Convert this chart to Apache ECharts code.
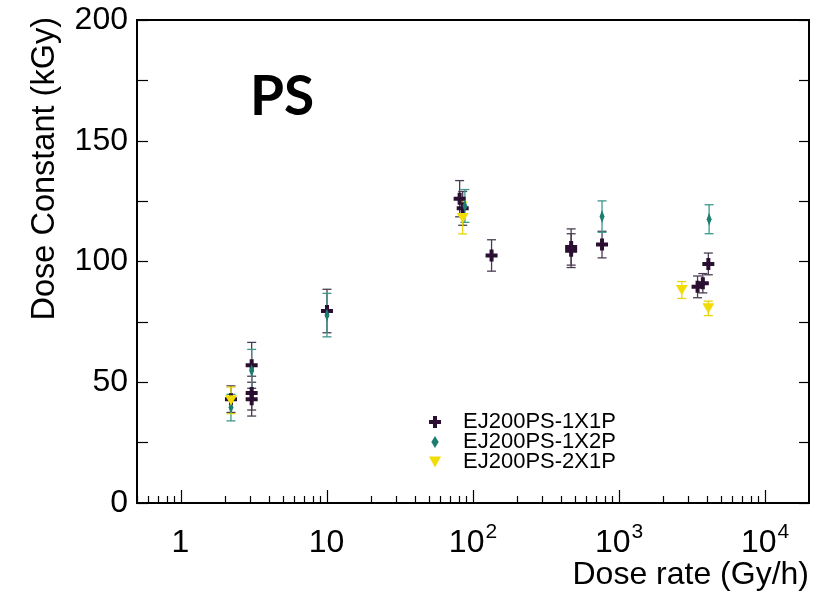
<!DOCTYPE html>
<html>
<head>
<meta charset="utf-8">
<script src="https://cdn.jsdelivr.net/npm/echarts@6/dist/echarts.min.js"></script>
<style>html,body{margin:0;padding:0;background:#fff}#c{width:833px;height:592px}</style>
</head>
<body>
<div id="c"></div>
<script>
// ---- data ----
const names = ['EJ200PS-1X1P', 'EJ200PS-1X2P', 'EJ200PS-2X1P'];
// EJ200PS-1X1P
const x1 = [2.2, 3.05, 3.05, 3.05, 10, 81, 85, 134, 470, 470, 765, 3450, 3750, 4090];
const y1 = [43, 57, 45.5, 43, 79.5, 126, 122, 102.5, 106, 104.5, 107, 89.5, 91, 99];
const e1 = [5.5, 9.5, 7, 7, 9, 7.5, 7, 6.5, 7.5, 7, 5.5, 4.5, 4, 4.5];
// EJ200PS-1X2P
const x2 = [2.2, 3.05, 10, 88, 765, 4140];
const y2 = [39.5, 54.8, 77.8, 123, 118.6, 117.5];
const e2 = [5.5, 8.8, 9, 6.8, 6.5, 6];
// EJ200PS-2X1P
const x3 = [2.2, 85, 2690, 4090];
const y3 = [42.5, 118, 88.2, 80.6];
const e3 = [5.5, 6.6, 3.5, 3];
// axis ticks
const xMajor = [1, 10, 100, 1000, 10000];
const xMinor = [0.5,0.6,0.7,0.8,0.9, 2,3,4,5,6,7,8,9, 20,30,40,50,60,70,80,90, 200,300,400,500,600,700,800,900, 2000,3000,4000,5000,6000,7000,8000,9000];
const yLabels = [0, 50, 100, 150, 200];

const colors = ['#2a0f33', '#1d7d70', '#f2dc05'];
const errColors = ['#4a3d52', '#3d978b', '#e9d40c'];
const symbols = [
  'path://M4,0H8V4H12V8H8V12H4V8H0V4H4Z',
  'path://M4,0L8,6.5L4,13L0,6.5Z',
  'path://M0,0L12,0L6,11Z'
];
const symSizes = [12, [8, 13], [12, 11]];

function pts(xs, ys) { return xs.map((x, i) => [x, ys[i]]); }
function errs(xs, ys, es) { return xs.map((x, i) => [x, ys[i], es[i]]); }

function errSeries(data, color) {
  return {
    type: 'custom',
    data: data,
    encode: { x: 0, y: 1 },
    silent: true,
    renderItem: function (params, api) {
      const x = api.value(0), y = api.value(1), e = api.value(2);
      const t = api.coord([x, y + e]);
      const b = api.coord([x, y - e]);
      const w = 4.5;
      const st = { stroke: color, lineWidth: 1.3 };
      return {
        type: 'group',
        children: [
          { type: 'line', shape: { x1: t[0], y1: t[1], x2: b[0], y2: b[1] }, style: st },
          { type: 'line', shape: { x1: t[0] - w, y1: t[1], x2: t[0] + w, y2: t[1] }, style: st },
          { type: 'line', shape: { x1: b[0] - w, y1: b[1], x2: b[0] + w, y2: b[1] }, style: st }
        ]
      };
    }
  };
}
function scatSeries(i, data) {
  return {
    type: 'scatter',
    name: names[i],
    data: data,
    symbol: symbols[i],
    symbolSize: symSizes[i],
    symbolKeepAspect: true,
    itemStyle: { color: colors[i], opacity: 1 },
    emphasis: { disabled: true }
  };
}

const FONT = '"Liberation Sans", Arial, Helvetica, sans-serif';
const chart = echarts.init(document.getElementById('c'), null, { renderer: 'canvas' });
chart.setOption({
  animation: false,
  backgroundColor: '#fff',
  grid: { left: 137, right: 24, top: 20, bottom: 89, show: true, borderColor: '#000', borderWidth: 2, backgroundColor: 'transparent' },
  xAxis: [
    {
      type: 'log', logBase: 10, min: 0.5, max: 20000, position: 'bottom',
      axisLine: { show: true, lineStyle: { color: '#000', width: 2 } },
      axisTick: { show: true, inside: true, length: 13, customValues: xMajor, lineStyle: { color: '#000', width: 1.2 } },
      axisLabel: {
        customValues: xMajor, margin: 24, color: '#000', fontFamily: FONT, fontSize: 32,
        formatter: function (v) {
          if (Math.abs(v - 1) < 1e-9) return '{b|1}{s|\u200b}';
          if (Math.abs(v - 10) < 1e-9) return '{b|10}{s|\u200b}';
          return '{b|10}{s|' + Math.round(Math.log10(v)) + '}';
        },
        rich: {
          b: { fontSize: 32, fontFamily: FONT, color: '#000', lineHeight: 32 },
          s: { fontSize: 21, fontFamily: FONT, color: '#000', lineHeight: 30, padding: [0, 0, 22, 1] }
        }
      },
      splitLine: { show: false }, minorTick: { show: false }
    },
    {
      type: 'log', logBase: 10, min: 0.5, max: 20000, position: 'bottom',
      axisLine: { show: false },
      axisTick: { show: true, inside: true, length: 7, customValues: xMinor, lineStyle: { color: '#000', width: 1.2 } },
      axisLabel: { show: false },
      splitLine: { show: false }
    }
  ],
  yAxis: [
    {
      type: 'value', min: 0, max: 200, interval: 25, position: 'left',
      axisLine: { show: true, lineStyle: { color: '#000', width: 2 } },
      axisTick: { show: true, inside: true, length: 11, lineStyle: { color: '#000', width: 1.2 } },
      axisLabel: {
        margin: 9, color: '#000', fontFamily: FONT, fontSize: 32,
        formatter: function (v) { return yLabels.indexOf(v) >= 0 ? String(v) : ''; }
      },
      splitLine: { show: false }
    },
    {
      type: 'value', min: 0, max: 200, interval: 25, position: 'right',
      axisLine: { show: true, lineStyle: { color: '#000', width: 2 } },
      axisTick: { show: true, inside: true, length: 10, lineStyle: { color: '#000', width: 1.2 } },
      axisLabel: { show: false },
      splitLine: { show: false }
    }
  ],
  legend: {
    orient: 'vertical', left: 424, top: 406,
    itemWidth: 12, itemHeight: 12, itemGap: -2,
    selectedMode: false,
    textStyle: { fontFamily: FONT, fontSize: 22, lineHeight: 19, color: '#000', padding: [0, 0, 0, 17] },
    data: names.map((n, i) => ({ name: n, icon: symbols[i] }))
  },
  graphic: [
    { type: 'text', x: 45, y: 17, rotation: Math.PI / 2, style: { text: 'Dose Constant (kGy)', align: 'right', verticalAlign: 'middle', font: '32.5px ' + FONT, fill: '#000' } },
    { type: 'text', x: 809, y: 575, style: { text: 'Dose rate (Gy/h)', align: 'right', verticalAlign: 'middle', font: '32px ' + FONT, fill: '#000' } },
    { type: 'text', x: 250, y: 97, style: { text: 'PS', align: 'left', verticalAlign: 'middle', font: 'bold 55px Lato, "Open Sans", sans-serif', fill: '#000' } }
  ],
  series: [
    errSeries(errs(x1, y1, e1), errColors[0]), scatSeries(0, pts(x1, y1)),
    errSeries(errs(x2, y2, e2), errColors[1]), scatSeries(1, pts(x2, y2)),
    errSeries(errs(x3, y3, e3), errColors[2]), scatSeries(2, pts(x3, y3))
  ]
});
</script>
</body>
</html>
